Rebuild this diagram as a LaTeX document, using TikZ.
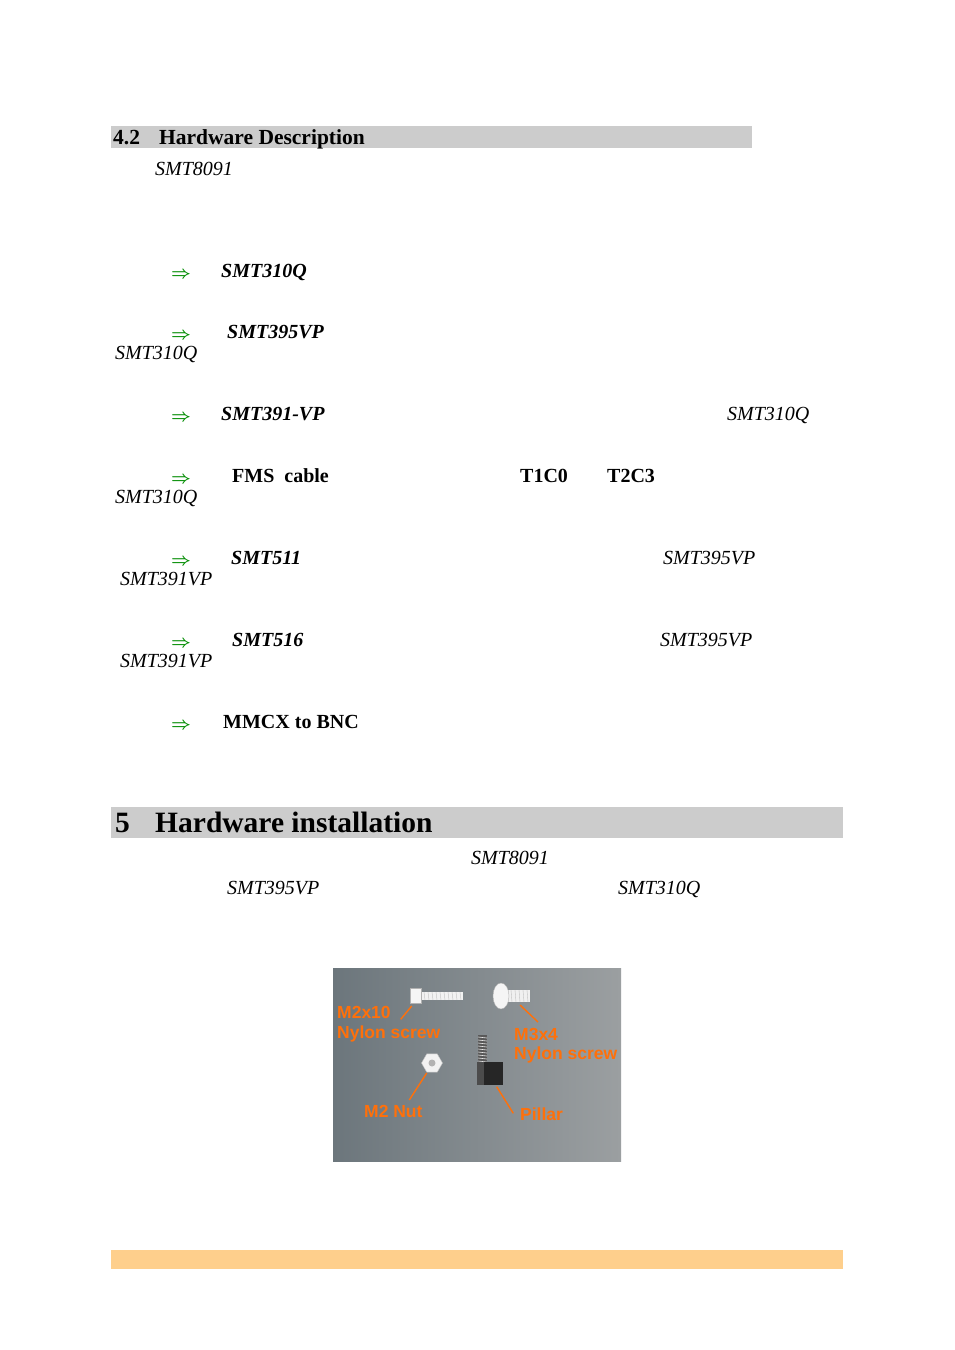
\documentclass[tikz,border=0pt]{standalone}
\usepackage{fontspec}
\setmainfont{Liberation Serif}
\newfontfamily\lsans{Liberation Sans}
\usetikzlibrary{shapes.geometric}
\definecolor{headgray}{RGB}{204,204,204}
\definecolor{barorange}{RGB}{254,207,140}
\definecolor{arrgreen}{RGB}{0,140,0}
\definecolor{lblorange}{RGB}{255,112,10}
\definecolor{bgleft}{RGB}{108,118,124}
\definecolor{bgright}{RGB}{155,159,161}
\tikzset{
  it/.style={anchor=base west, inner sep=0pt, font=\fontsize{20}{24}\selectfont\itshape},
  bi/.style={anchor=base west, inner sep=0pt, font=\fontsize{20}{24}\selectfont\bfseries\itshape},
  bd/.style={anchor=base west, inner sep=0pt, font=\fontsize{20}{24}\selectfont\bfseries},
  arr/.style={anchor=base west, inner sep=0pt, text=arrgreen, font=\fontsize{19}{24}\selectfont\boldmath},
  lbl/.style={anchor=west, inner sep=0pt, text=lblorange, font=\fontsize{17.5}{20}\selectfont\lsans\bfseries},
  lline/.style={draw=lblorange, line width=1.4pt},
  part/.style={fill=white!92!gray, draw=gray!60, line width=0.4pt}
}
\begin{document}
\begin{tikzpicture}[x=1pt,y=-1pt]
\useasboundingbox (0,0) rectangle (954,1350);
\fill[white] (0,0) rectangle (954,1350);
% section 4.2 header
\fill[headgray] (111,126) rectangle (752,148);
\node[bd, font=\fontsize{21.5}{24}\selectfont\bfseries] (h42n) at (113,144) {4.2};
\node[bd, font=\fontsize{21.5}{24}\selectfont\bfseries] (h42) at (159,144) {Hardware Description};
\node[it] (t1) at (155,175) {SMT8091};
% items
\node[arr] (a1) at (171,278) {$\Rightarrow$};
\node[bi] (i1) at (221,277) {SMT310Q};
\node[arr] (a2) at (171,339) {$\Rightarrow$};
\node[bi] (i2) at (227,338) {SMT395VP};
\node[it] (i2b) at (115,359) {SMT310Q};
\node[arr] (a3) at (171,421) {$\Rightarrow$};
\node[bi] (i3) at (221,420) {SMT391-VP};
\node[it] (i3b) at (727,420) {SMT310Q};
\node[arr] (a4) at (171,483) {$\Rightarrow$};
\node[bd] (i4) at (232,482) {FMS\ \ cable};
\node[bd] (i4b) at (520,482) {T1C0};
\node[bd] (i4c) at (607,482) {T2C3};
\node[it] (i4d) at (115,503) {SMT310Q};
\node[arr] (a5) at (171,565) {$\Rightarrow$};
\node[bi] (i5) at (231,564) {SMT511};
\node[it] (i5b) at (663,564) {SMT395VP};
\node[it] (i5c) at (120,585) {SMT391VP};
\node[arr] (a6) at (171,647) {$\Rightarrow$};
\node[bi] (i6) at (232,646) {SMT516};
\node[it] (i6b) at (660,646) {SMT395VP};
\node[it] (i6c) at (120,667) {SMT391VP};
\node[arr] (a7) at (171,729) {$\Rightarrow$};
\node[bd] (i7) at (223,728) {MMCX to BNC};
% section 5 header
\fill[headgray] (111,807) rectangle (843,838);
\node[bd, font=\fontsize{29.5}{32}\selectfont\bfseries] (h5n) at (115,832) {5};
\node[bd, font=\fontsize{29.5}{32}\selectfont\bfseries] (h5) at (155,832) {Hardware installation};
\node[it] (s1) at (471,864) {SMT8091};
\node[it] (s2) at (227,894) {SMT395VP};
\node[it] (s3) at (618,894) {SMT310Q};
% photo
\shade[left color=bgleft, right color=bgright] (333,968) rectangle (621,1161);
% M2x10 screw
\fill[white!90!gray] (420,992) rectangle (463,1000);
\foreach \xx in {424,428,...,460} \draw[gray!50, line width=0.4pt] (\xx,992) -- (\xx+1,1000);
\fill[part] (410,988) rectangle (421,1003);
% M3x4 screw
\fill[white!88!gray] (507,990) rectangle (530,1002);
\foreach \xx in {511,515,...,527} \draw[gray!50, line width=0.4pt] (\xx,990) -- (\xx+1,1002);
\fill[part] (501,996) ellipse (8 and 13);
% nut
\node[regular polygon, regular polygon sides=6, minimum size=21pt, fill=white!90!gray, draw=gray!50, inner sep=0pt] (nut) at (432,1063) {};
\fill[gray!60] (nut.center) circle (3.5);
% pillar
\fill[gray!70!black] (478,1035) rectangle (487,1063);
\foreach \yy in {1037,1040,...,1061} \draw[white!80!gray, line width=0.6pt] (478,\yy) -- (487,\yy+1);
\fill[black!85] (477,1062) rectangle (503,1085);
\fill[gray!60!black] (477,1062) rectangle (484,1085);
% labels
\node[lbl] (l1) at (337,1012) {M2x10};
\node[lbl] (l2) at (337,1034) {Nylon screw};
\node[lbl] (l3) at (514,1034) {M3x4};
\node[lbl] (l4) at (514,1055) {Nylon screw};
\node[lbl] (l5) at (364,1111) {M2 Nut};
\node[lbl] (l6) at (520,1114) {Pillar};
\coordinate (c1a) at (400.7,1019.3); \coordinate (c1b) at (411.7,1006);
\coordinate (c2a) at (520,1005); \coordinate (c2b) at (538,1022);
\coordinate (c3a) at (426.7,1073); \coordinate (c3b) at (409.3,1100);
\coordinate (c4a) at (496.7,1086.7); \coordinate (c4b) at (513.3,1113.3);
\draw[lline] (c1a) -- (c1b);
\draw[lline] (c2a) -- (c2b);
\draw[lline] (c3a) -- (c3b);
\draw[lline] (c4a) -- (c4b);
% footer bar
\fill[barorange] (111,1250) rectangle (843,1269);
\end{tikzpicture}
\end{document}
